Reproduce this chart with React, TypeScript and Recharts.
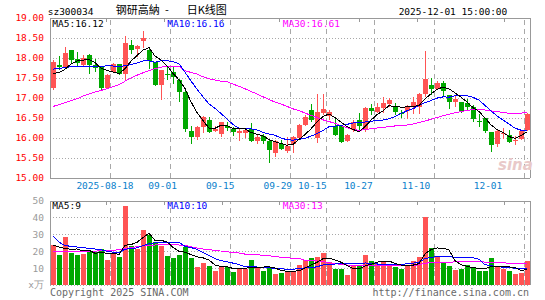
import React from 'react';
import { ComposedChart, Bar, Line, XAxis, YAxis, CartesianGrid, ReferenceLine } from 'recharts';

const MONO = '"DejaVu Sans Mono", "Liberation Mono", monospace';
const CJK = '"Noto Sans CJK SC", sans-serif';
const UP = '#ff5454';
const DOWN = '#00a800';
const FRAME = '#999999';
const GRID = '#a8a8a8';

const dates = [
  '2025-08-04','2025-08-05','2025-08-06','2025-08-07','2025-08-08',
  '2025-08-11','2025-08-12','2025-08-13','2025-08-14','2025-08-15',
  '2025-08-18','2025-08-19','2025-08-20','2025-08-21','2025-08-22',
  '2025-08-25','2025-08-26','2025-08-27','2025-08-28','2025-08-29',
  '2025-09-01','2025-09-02','2025-09-03','2025-09-04','2025-09-05',
  '2025-09-08','2025-09-09','2025-09-10','2025-09-11','2025-09-12',
  '2025-09-15','2025-09-16','2025-09-17','2025-09-18','2025-09-19',
  '2025-09-22','2025-09-23','2025-09-24','2025-09-25','2025-09-26',
  '2025-09-29','2025-09-30','2025-10-09','2025-10-10',
  '2025-10-13','2025-10-14','2025-10-15','2025-10-16','2025-10-17',
  '2025-10-20','2025-10-21','2025-10-22','2025-10-23','2025-10-24',
  '2025-10-27','2025-10-28','2025-10-29','2025-10-30','2025-10-31',
  '2025-11-03','2025-11-04','2025-11-05','2025-11-06','2025-11-07',
  '2025-11-10','2025-11-11','2025-11-12','2025-11-13','2025-11-14',
  '2025-11-17','2025-11-18','2025-11-19','2025-11-20','2025-11-21',
  '2025-11-24','2025-11-25','2025-11-26','2025-11-27','2025-11-28',
  '2025-12-01',
];

const opens = [
  17.25,17.82,17.78,18.20,17.97,17.83,18.08,17.82,17.78,17.26,
  17.65,17.84,17.60,18.32,18.22,18.43,18.21,17.90,17.32,17.61,
  17.65,17.46,17.16,16.18,16.02,16.27,16.46,16.17,16.10,16.31,
  16.22,16.12,16.12,16.23,15.93,16.04,15.92,15.62,15.85,15.68,
  15.84,15.99,16.32,16.70,15.99,16.62,16.55,16.31,16.31,15.93,
  16.20,16.45,16.23,16.74,16.66,16.74,16.84,16.81,16.62,16.67,
  16.78,16.78,17.11,17.33,17.23,17.38,17.07,16.90,16.90,16.88,
  16.78,16.43,16.50,16.15,15.86,16.10,16.08,15.93,15.98,16.19,
];
const highs = [
  17.96,18.04,18.27,18.21,18.15,18.07,18.09,17.98,17.80,17.61,
  17.87,17.85,18.54,18.44,18.33,18.67,18.23,17.91,17.70,17.78,
  17.80,17.47,17.17,16.31,16.29,16.54,16.52,16.31,16.41,16.41,
  16.28,16.23,16.25,16.37,16.10,16.10,15.95,15.95,15.95,16.03,
  16.06,16.34,16.57,16.84,17.10,17.10,16.70,16.53,16.32,16.09,
  16.45,16.62,16.77,16.84,16.87,17.03,16.99,16.87,16.69,16.83,
  17.02,17.12,18.17,17.50,17.42,17.42,17.08,17.07,16.91,16.97,
  16.82,16.61,16.51,16.16,16.19,16.25,16.19,16.05,16.19,16.63,
];
const lows = [
  17.19,17.69,17.75,17.88,17.80,17.78,17.61,17.65,17.21,17.23,
  17.62,17.57,17.46,18.11,18.02,18.25,17.73,17.29,16.94,17.44,
  17.35,16.89,16.14,15.85,15.96,16.12,16.12,16.14,16.02,16.17,
  16.05,15.92,16.00,15.91,15.85,15.85,15.37,15.52,15.70,15.62,
  15.62,15.97,16.31,16.41,15.88,16.57,16.45,16.06,15.87,15.91,
  16.16,16.20,16.14,16.58,16.62,16.62,16.78,16.58,16.50,16.47,
  16.61,16.61,17.03,17.07,17.19,17.03,16.72,16.78,16.63,16.67,
  16.40,16.28,16.13,15.65,15.78,15.98,15.88,15.83,15.94,16.17,
];
const closes = [
  17.90,17.77,18.13,17.95,17.88,18.01,17.83,17.75,17.26,17.58,
  17.84,17.61,18.38,18.19,18.30,18.50,17.93,17.32,17.69,17.60,
  17.53,17.14,16.23,16.02,16.28,16.53,16.16,16.23,16.39,16.25,
  16.14,16.17,16.21,15.92,16.03,15.93,15.71,15.93,15.72,15.81,
  16.03,16.33,16.53,16.45,16.66,16.72,16.64,16.08,15.89,16.08,
  16.39,16.31,16.76,16.68,16.78,16.87,16.95,16.66,16.60,16.80,
  16.90,17.11,17.48,17.22,17.38,17.17,16.90,16.98,16.67,16.78,
  16.47,16.41,16.17,15.82,16.17,16.12,15.90,15.95,16.17,16.61,
];
// volume, 万手
const volumes = [
  24.1,17.8,28.6,19.0,17.8,18.4,19.5,19.8,21.5,14.8,
  18.5,16.5,47.0,23.5,21.5,32.6,29.5,25.5,23.5,17.5,
  15.9,18.1,22.9,15.9,10.9,13.1,11.5,8.4,10.7,10.9,
  7.8,9.8,9.8,15.1,10.3,8.4,10.5,6.8,7.0,8.4,
  8.4,11.8,14.9,15.9,16.5,19.1,13.5,9.4,9.4,6.0,
  11.4,11.8,18.1,14.3,12.4,14.1,12.4,11.0,9.4,11.8,
  14.5,16.9,40.4,21.9,16.5,13.9,11.4,9.0,9.4,11.8,
  10.4,8.4,8.4,15.9,11.4,9.8,8.4,6.4,7.0,14.5,
];

// moving-average values for the first days (history before the window)
const ma5Head = [17.62, 17.63, 17.72, 17.85];
const ma10Head = [17.72, 17.74, 17.76, 17.78, 17.79, 17.79, 17.79, 17.79, 17.79];
const ma30Head = [
  16.79,16.83,16.88,16.93,16.98,17.05,17.10,17.15,17.19,17.23,
  17.28,17.33,17.42,17.50,17.57,17.63,17.68,17.73,17.77,17.80,
  17.80,17.79,17.68,17.64,17.60,17.53,17.48,17.45,17.42,
];
const volMa5Head = [23.8, 22.6, 21.8, 21.2];
const volMa10Head = [29.0, 25.5, 23.5, 23.0, 22.6, 22.2, 21.8, 21.4, 21.0];
const volMa30Head = [
  19.8,19.9,20.0,20.0,20.1,20.1,20.2,20.2,20.3,20.4,
  20.6,21.0,21.6,22.2,22.8,23.3,23.6,23.8,24.0,24.0,
  24.0,23.8,23.5,22.8,22.0,21.4,21.0,20.6,20.2,
];

const tickDates = ['2025-08-18','2025-09-01','2025-09-15','2025-09-29','2025-10-15','2025-10-27','2025-11-10','2025-12-01'];
const tickLabels = ['2025-08-18','09-01','09-15','09-29','10-15','10-27','11-10','12-01'];
const priceTicks = [15, 15.5, 16, 16.5, 17, 17.5, 18, 18.5, 19];
const volTicks = [0, 10, 20, 30, 40, 50];

const priceLegend = ['MA5:16.12', 'MA10:16.16', 'MA30:16.61'];
const volLegend = ['MA5:9', 'MA10:10', 'MA30:13'];
const legendColors = ['#000000', '#0000ff', '#ff00ff'];
const titleParts = ['钢研高納', '-', '日K线图'];

function movingAvg(values: number[], n: number, head: number[]) {
  return values.map((_, i) => {
    if (i < n - 1) return head[i];
    let s = 0;
    for (let k = i - n + 1; k <= i; k++) s += values[k];
    return +(s / n).toFixed(3);
  });
}

const ma5 = movingAvg(closes, 5, ma5Head);
const ma10 = movingAvg(closes, 10, ma10Head);
const ma30 = movingAvg(closes, 30, ma30Head);
const vma5 = movingAvg(volumes, 5, volMa5Head);
const vma10 = movingAvg(volumes, 10, volMa10Head);
const vma30 = movingAvg(volumes, 30, volMa30Head);

const rows = dates.map((d, i) => ({
  date: d,
  range: [lows[i], highs[i]],
  open: opens[i],
  high: highs[i],
  low: lows[i],
  close: closes[i],
  vol: volumes[i],
  ma5: ma5[i],
  ma10: ma10[i],
  ma30: ma30[i],
  vma5: vma5[i],
  vma10: vma10[i],
  vma30: vma30[i],
}));

const renderCandle = (props: any) => {
  const { x, y, width, height } = props;
  const p = props.payload || props;
  const { open, close, high, low } = p;
  const color = close >= open ? UP : DOWN;
  const top0 = Math.min(y, y + height);
  const h0 = Math.abs(height);
  const span = high - low || 1;
  const py = (v: number) => top0 + ((high - v) / span) * h0;
  const bTop = py(Math.max(open, close));
  const bBot = py(Math.min(open, close));
  const left = Math.round(x - 0.5);
  const w = Math.round(width);
  const cx = left + Math.floor(w / 2) + 0.5;
  return (
    <g>
      <line x1={cx} x2={cx} y1={top0} y2={top0 + h0} stroke={color} strokeWidth={1} />
      <rect x={left} y={bTop} width={w} height={Math.max(bBot - bTop, 1)} fill={color} />
    </g>
  );
};

const renderVolBar = (props: any) => {
  const { x, y, width, height } = props;
  const p = props.payload || props;
  const color = p.close >= p.open ? UP : DOWN;
  const left = Math.round(x - 0.5);
  return <rect x={left} y={Math.min(y, y + height)} width={Math.round(width)} height={Math.abs(height)} fill={color} />;
};

const renderDateTick = (props: any) => {
  const { x, y, payload } = props;
  const idx = tickDates.indexOf(payload.value);
  const label = idx >= 0 ? tickLabels[idx] : payload.value;
  const lineX = x - 3;
  const cx = Math.min(0.96 * lineX - 0.6, 488);
  return (
    <text x={cx} y={y + 11.3} textAnchor="middle" fill="#0a7fcc" fontSize={9.5} fontFamily={MONO}>
      {label}
    </text>
  );
};

const lastDate = dates[dates.length - 1];

const PriceChart = () => (
  <ComposedChart
    width={545}
    height={195}
    data={rows}
    margin={{ top: 18, right: 15, bottom: 0, left: 0 }}
    style={{ shapeRendering: 'crispEdges' }}
  >
    <CartesianGrid vertical={false} stroke={GRID} strokeDasharray="1 2" />
    <XAxis
      dataKey="date"
      ticks={tickDates}
      interval={0}
      height={17}
      tickSize={0}
      tickMargin={0}
      tickLine={false}
      axisLine={{ stroke: FRAME }}
      tick={renderDateTick}
    />
    <YAxis
      domain={[15, 19]}
      ticks={priceTicks}
      interval={0}
      width={50}
      allowDataOverflow
      tickFormatter={(v: number) => v.toFixed(2)}
      tickLine={false}
      tickSize={0}
      tickMargin={6}
      axisLine={{ stroke: FRAME }}
      tick={{ fill: '#ff0000', fontSize: 9.5, fontFamily: MONO }}
    />
    {tickDates.map((d) => (
      <ReferenceLine key={d} x={d} position="start" stroke={GRID} strokeDasharray="5 4" />
    ))}
    <ReferenceLine y={19} stroke={FRAME} />
    <ReferenceLine x={lastDate} position="end" stroke={FRAME} />
    <Bar dataKey="range" barSize={5} shape={renderCandle} isAnimationActive={false} />
    <Line dataKey="ma30" stroke="#ff00ff" strokeWidth={1} dot={false} activeDot={false} isAnimationActive={false} />
    <Line dataKey="ma10" stroke="#0000ff" strokeWidth={1} dot={false} activeDot={false} isAnimationActive={false} />
    <Line dataKey="ma5" stroke="#000000" strokeWidth={1} dot={false} activeDot={false} isAnimationActive={false} />
  </ComposedChart>
);

const VolumeChart = () => (
  <ComposedChart
    width={545}
    height={105}
    data={rows}
    margin={{ top: 6, right: 15, bottom: 15, left: 0 }}
    style={{ shapeRendering: 'crispEdges' }}
  >
    <CartesianGrid vertical={false} stroke={GRID} strokeDasharray="1 2" />
    <XAxis dataKey="date" height={0} tick={false} tickLine={false} axisLine={{ stroke: FRAME }} />
    <YAxis
      domain={[0, 50]}
      ticks={volTicks}
      interval={0}
      width={50}
      allowDataOverflow
      tickFormatter={(v: number) => (v === 0 ? 'x万' : String(v))}
      tickLine={false}
      tickSize={0}
      tickMargin={6}
      axisLine={{ stroke: FRAME }}
      tick={{ fill: '#9a9a9a', fontSize: 9.5, fontFamily: MONO }}
    />
    {tickDates.map((d) => (
      <ReferenceLine key={d} x={d} position="start" stroke={GRID} strokeDasharray="5 4" />
    ))}
    <ReferenceLine y={50} stroke={FRAME} />
    <ReferenceLine x={lastDate} position="end" stroke={FRAME} />
    <Bar dataKey="vol" barSize={5} shape={renderVolBar} isAnimationActive={false} />
    <Line dataKey="vma30" stroke="#ff00ff" strokeWidth={1} dot={false} activeDot={false} isAnimationActive={false} />
    <Line dataKey="vma10" stroke="#0000ff" strokeWidth={1} dot={false} activeDot={false} isAnimationActive={false} />
    <Line dataKey="vma5" stroke="#000000" strokeWidth={1} dot={false} activeDot={false} isAnimationActive={false} />
  </ComposedChart>
);

const frameTicks = [106, 164, 222, 279, 359, 417, 504];
const legendX = [52.3, 167.3, 282.7];
const titleX = [115.7, 165, 186.7];

const Overlay = () => (
  <svg width={545} height={300} style={{ position: 'absolute', left: 0, top: 0, pointerEvents: 'none' }}>
    <text x={47.7} y={15} fontSize={9.5} fontFamily={MONO} fill="#000">sz300034</text>
    {titleParts.map((t, i) => (
      <text key={t} x={titleX[i]} y={13.8} fontSize={11} fontFamily={CJK} fill="#000">{t}</text>
    ))}
    <text x={507.3} y={15} fontSize={9.5} fontFamily={MONO} fill="#000" textAnchor="end">2025-12-01 15:00:00</text>
    {priceLegend.map((t, i) => (
      <text key={t} x={legendX[i]} y={26.6} fontSize={9.5} fontFamily={MONO} fill={legendColors[i]}>{t}</text>
    ))}
    {volLegend.map((t, i) => (
      <text key={t} x={legendX[i]} y={209.3} fontSize={9.5} fontFamily={MONO} fill={legendColors[i]}>{t}</text>
    ))}
    {frameTicks.map((fx) => (
      <g key={fx} style={{ shapeRendering: 'crispEdges' }}>
        <line x1={fx + 0.5} x2={fx + 0.5} y1={18} y2={22} stroke={FRAME} />
        <line x1={fx + 0.5} x2={fx + 0.5} y1={201} y2={205} stroke={FRAME} />
      </g>
    ))}
    <text x={498} y={170} fontSize={15} fontStyle="italic" fontWeight="bold" fontFamily="Verdana, 'DejaVu Sans', sans-serif" fill="#e9c9c9">sina</text>
    <text x={50} y={296.3} fontSize={10} fontFamily={MONO} fill="#6a6a6a">Copyright 2025 SINA.COM</text>
    <text x={529} y={296.3} fontSize={10} fontFamily={MONO} fill="#6a6a6a" textAnchor="end">http://finance.sina.com.cn</text>
  </svg>
);

export default function App() {
  return (
    <div style={{ position: 'absolute', left: 0, top: 0, width: 545, height: 300, background: '#ffffff', overflow: 'hidden' }}>
      <div style={{ position: 'absolute', left: 0, top: 0 }}>
        <PriceChart />
      </div>
      <div style={{ position: 'absolute', left: 0, top: 195 }}>
        <VolumeChart />
      </div>
      <Overlay />
    </div>
  );
}
